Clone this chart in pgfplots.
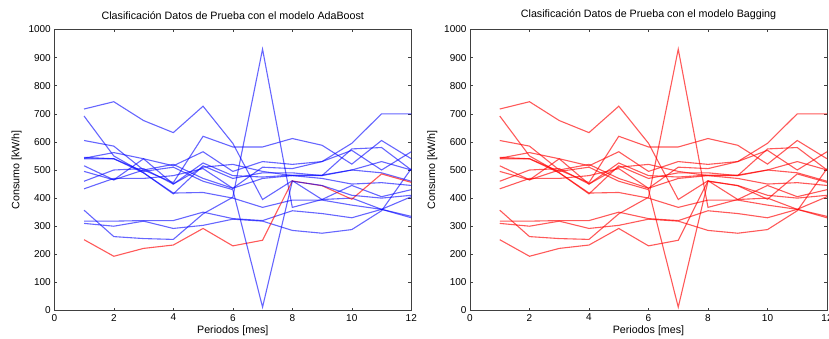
\documentclass[border=0pt]{standalone}
\usepackage{pgfplots}
\pgfplotsset{compat=1.18}
\usepackage{pgfplotstable}
\usepackage{fontspec}
\setmainfont{Liberation Sans}

\pgfplotstableread{
x  s1  s2  s3  s4  s5  s6  s7  s8  s9  s10 s11 s12 s13 s14
1  717 692 605 542 540 515 495 460 433 357 318 310 252 545
2  743 550 585 562 540 465 465 500 470 263 318 300 193 540
3  676 490 500 540 490 540 500 505 470 256 320 318 221 495
4  633 418 455 515 415 450 520 450 480 253 320 292 233 510
5  727 420 620 565 515 525 470 510 505 344 350 303 292 460
6  595 400 582 495 470 480 435 520 435 403 327 325 230 430
7  395 367 582 530 490 475 510 495 470 930 320 318 250 12
8  462 393 612 520 490 482 505 480 480 367 355 285 461 460
9  395 393 588 530 480 482 530 470 480 395 345 275 444 445
10 400 375 521 570 575 500 595 450 500 445 330 288 396 410
11 360 360 605 500 580 490 700 455 530 405 360 355 486 400
12 335 330 540 565 500 460 700 445 500 430 405 505 456 410
}\data

\pgfplotsset{myax/.style={
  scale only axis, width=357pt, height=281pt,
  xmin=0, xmax=12, ymin=0, ymax=1000,
  xtick={0,2,...,12}, ytick={0,100,...,1000},
  tick align=inside, major tick length=3pt,
  /pgf/number format/assume math mode=true,
  /pgf/number format/1000 sep={},
  tick label style={font=\fontsize{10}{12}\selectfont},
  title style={font=\fontsize{10.7}{12}\selectfont, yshift=0pt},
  label style={font=\fontsize{10.7}{12}\selectfont},
  xlabel={Periodos [mes]}, ylabel={Consumo [kW/h]},
  xlabel style={yshift=2pt},
  axis line style={line width=1pt, black!75},
  every tick/.style={black!75, line width=0.6pt},
},
bl/.style={blue, draw opacity=0.6, line width=1.1pt, mark=none},
rd/.style={red, draw opacity=0.65, line width=1.1pt, mark=none},
}

\begin{document}
\begin{tikzpicture}
\begin{axis}[myax, at={(54.3pt,27.5pt)}, anchor=south west,
  title={Clasificación Datos de Prueba con el modelo AdaBoost}]
\addplot[bl] table[x=x,y=s1]{\data};
\addplot[bl] table[x=x,y=s2]{\data};
\addplot[bl] table[x=x,y=s3]{\data};
\addplot[bl] table[x=x,y=s4]{\data};
\addplot[bl] table[x=x,y=s5]{\data};
\addplot[bl] table[x=x,y=s6]{\data};
\addplot[bl] table[x=x,y=s7]{\data};
\addplot[bl] table[x=x,y=s8]{\data};
\addplot[bl] table[x=x,y=s9]{\data};
\addplot[bl] table[x=x,y=s10]{\data};
\addplot[bl] table[x=x,y=s11]{\data};
\addplot[bl] table[x=x,y=s12]{\data};
\addplot[rd] table[x=x,y=s13]{\data};
\addplot[bl] table[x=x,y=s14]{\data};
\end{axis}
\begin{axis}[myax, at={(470pt,27.5pt)}, anchor=south west,
  title={Clasificación Datos de Prueba con el modelo Bagging}]
\addplot[rd] table[x=x,y=s1]{\data};
\addplot[rd] table[x=x,y=s2]{\data};
\addplot[rd] table[x=x,y=s3]{\data};
\addplot[rd] table[x=x,y=s4]{\data};
\addplot[rd] table[x=x,y=s5]{\data};
\addplot[rd] table[x=x,y=s6]{\data};
\addplot[rd] table[x=x,y=s7]{\data};
\addplot[rd] table[x=x,y=s8]{\data};
\addplot[rd] table[x=x,y=s9]{\data};
\addplot[rd] table[x=x,y=s10]{\data};
\addplot[rd] table[x=x,y=s11]{\data};
\addplot[rd] table[x=x,y=s12]{\data};
\addplot[rd] table[x=x,y=s13]{\data};
\addplot[rd] table[x=x,y=s14]{\data};
\end{axis}
\pgfresetboundingbox
\path[use as bounding box] (0pt,0pt) rectangle (829pt,338pt);
\end{tikzpicture}
\end{document}
